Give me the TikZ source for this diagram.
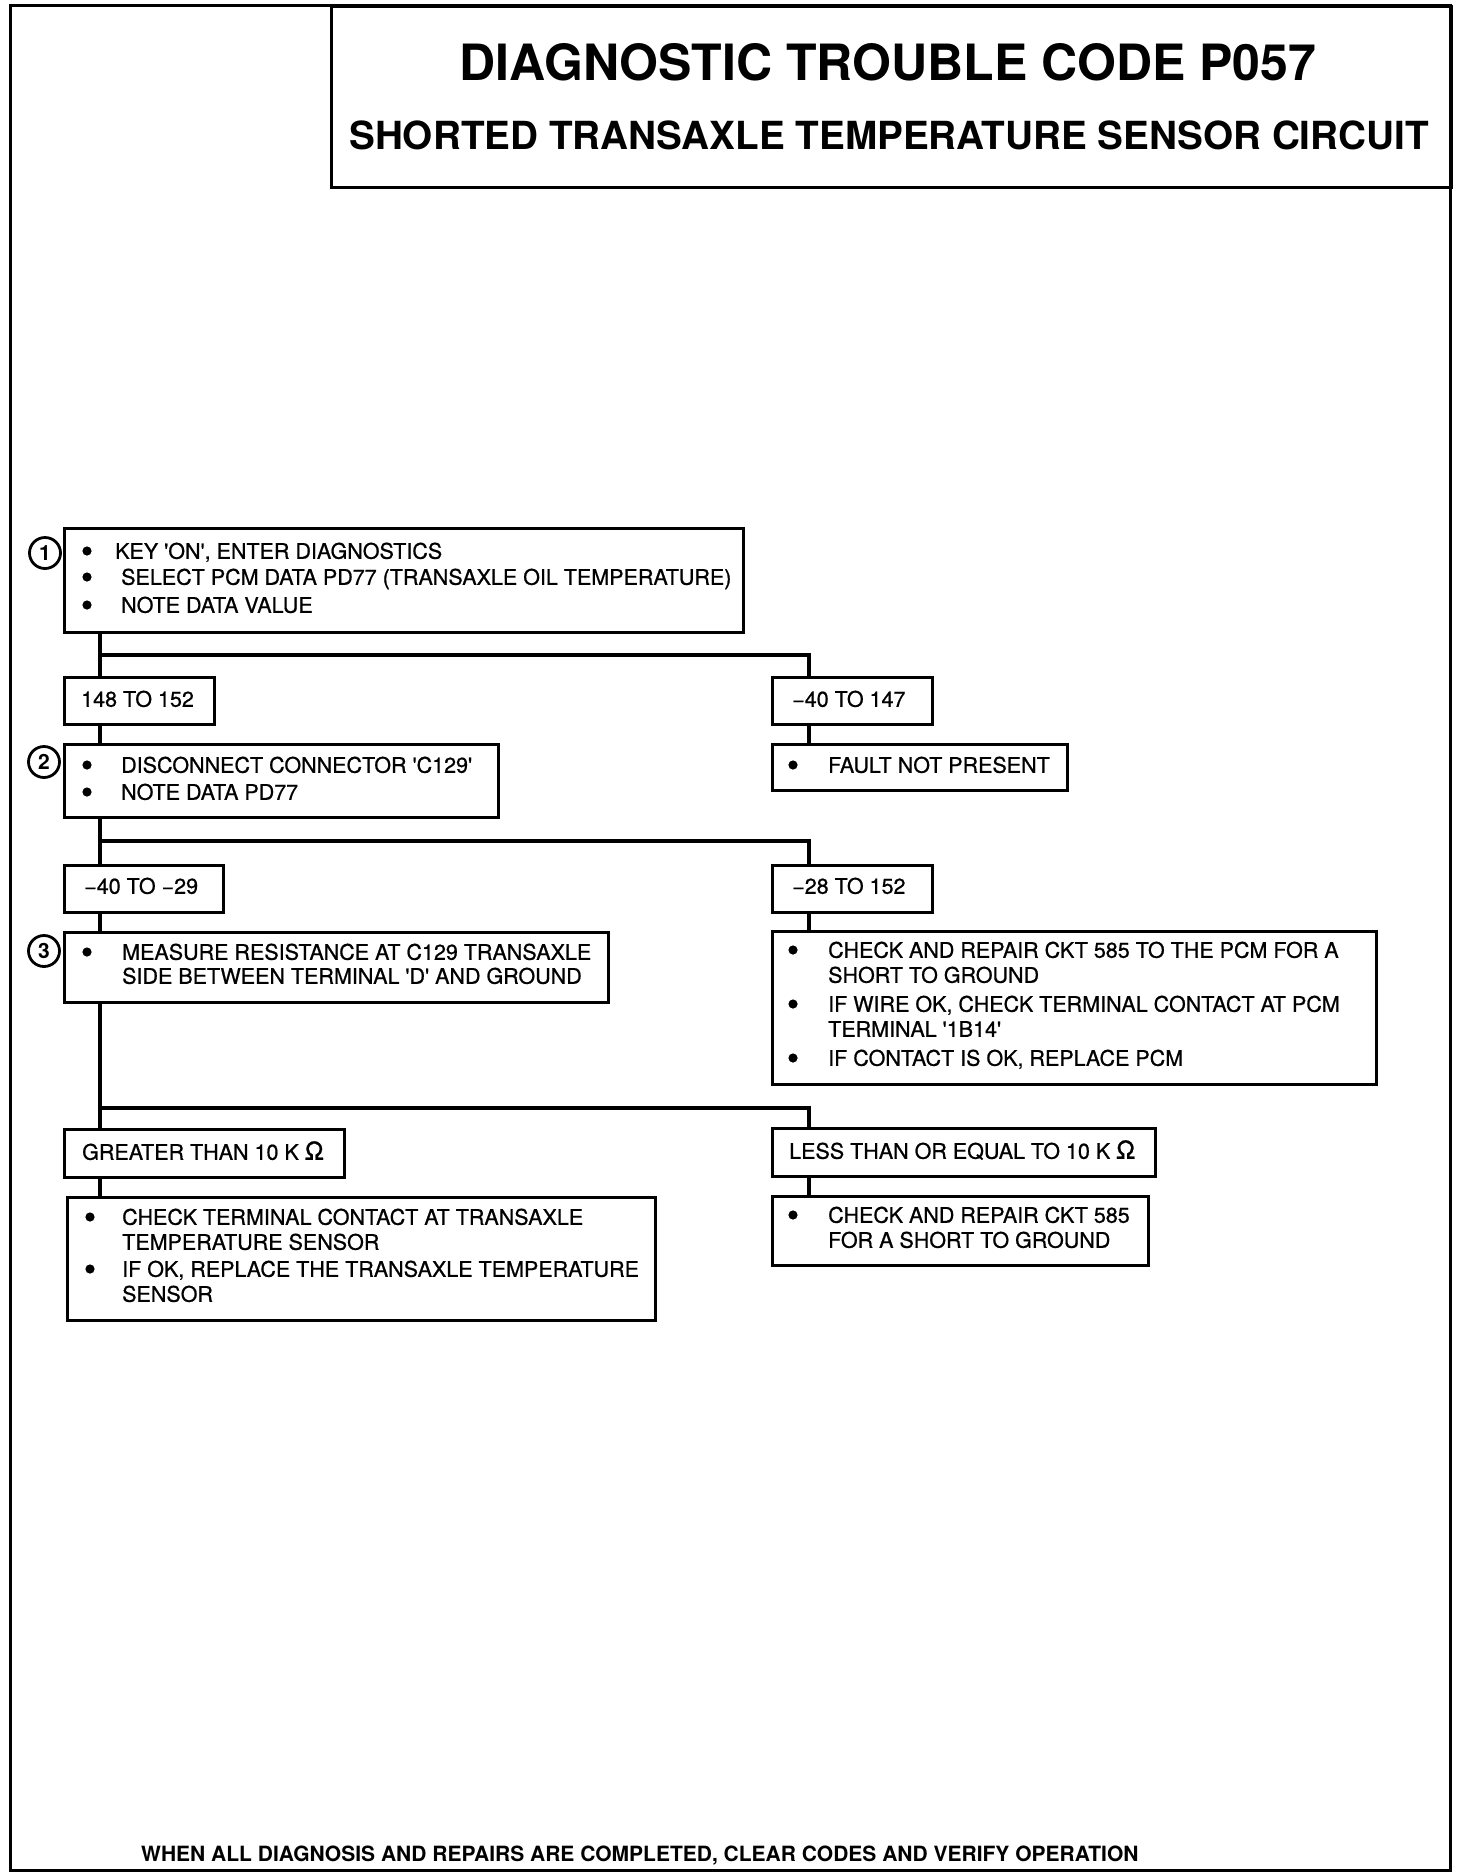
\documentclass[tikz,border=0pt]{standalone}
\usepackage{fontspec}
\setmainfont{TeX Gyre Heros}
\newfontfamily\bodyfont{TeX Gyre Heros}[FakeBold=0.8]
\newfontfamily\footfont{TeX Gyre Heros}
\begin{document}
\begin{tikzpicture}[x=1pt,y=-1pt,
  frame/.style={line width=3pt},
  box/.style={draw, line width=2.5pt, inner sep=0pt, anchor=north west},
  txt/.style={anchor=west, inner sep=0pt, text height=15.5pt, text depth=0pt,
    font=\bodyfont\fontsize{21.5}{25}\selectfont},
  conn/.style={line width=4.8pt, line join=miter},
  num/.style={circle, draw, line width=2.8pt, minimum size=31pt, inner sep=0pt,
    font=\bfseries\fontsize{21}{24}\selectfont},
  ttl/.style={inner sep=0pt, text height=36pt, text depth=0pt,
    font=\bfseries\fontsize{50}{54}\selectfont},
  sttl/.style={inner sep=0pt, text height=28pt, text depth=0pt,
    font=\bfseries\fontsize{38.7}{42}\selectfont},
]
\useasboundingbox (0,0) rectangle (1472,1874);
\draw[frame] (10,5) rectangle (1450,1870);
\node[box, line width=3pt, minimum width=1120pt, minimum height=181pt] (title) at (330,5) {};
\node[ttl] (t1) at (888,62) {DIAGNOSTIC TROUBLE CODE P057};
\node[sttl] (t2) at (889,135) {SHORTED TRANSAXLE TEMPERATURE SENSOR CIRCUIT};

% step boxes
\node[box, minimum width=679pt, minimum height=104pt] (b1) at (63,527) {};
\node[box, minimum width=150pt, minimum height=47pt] (r148) at (63,676) {};
\node[box, minimum width=160pt, minimum height=47pt] (r40) at (771,676) {};
\node[box, minimum width=295pt, minimum height=46pt] (fault) at (771,743) {};
\node[box, minimum width=434pt, minimum height=73pt] (b2) at (63,743) {};
\node[box, minimum width=159pt, minimum height=47pt] (r4029) at (63,864) {};
\node[box, minimum width=160pt, minimum height=47pt] (r28) at (771,864) {};
\node[box, minimum width=544pt, minimum height=70pt] (b3) at (63,931) {};
\node[box, minimum width=604pt, minimum height=153pt] (pcm) at (771,930) {};
\node[box, minimum width=280pt, minimum height=48pt] (gt) at (63,1128) {};
\node[box, minimum width=383pt, minimum height=48pt] (le) at (771,1127) {};
\node[box, minimum width=588pt, minimum height=123pt] (sens) at (66,1196) {};
\node[box, minimum width=376pt, minimum height=69pt] (ckt) at (771,1195) {};

% circled numbers
\node[num] (n1) at (45,553) {1};
\node[num] (n2) at (44,762) {2};
\node[num] (n3) at (44,951) {3};

% texts
\fill (87,551) circle[radius=4.6pt];
\fill (87,577) circle[radius=4.6pt];
\fill (87,605) circle[radius=4.6pt];
\node[txt] (l11) at (115,551) {KEY 'ON', ENTER DIAGNOSTICS};
\node[txt] (l12) at (121,577) {SELECT PCM DATA PD77 (TRANSAXLE OIL TEMPERATURE)};
\node[txt] (l13) at (121,605) {NOTE DATA VALUE};

\node[txt] (l148) at (81,699) {148 TO 152};
\node[txt] (l40) at (792,699) {\textminus40 TO 147};
\fill (793,765) circle[radius=4.6pt];
\node[txt] (lf) at (828,765) {FAULT NOT PRESENT};

\fill (87,765) circle[radius=4.6pt];
\fill (87,792) circle[radius=4.6pt];
\node[txt] (l21) at (121,765) {DISCONNECT CONNECTOR 'C129'};
\node[txt] (l22) at (121,792) {NOTE DATA PD77};

\node[txt] (l4029) at (84,886) {\textminus40 TO \textminus29};
\node[txt] (l28) at (792,886) {\textminus28 TO 152};

\fill (87,952) circle[radius=4.6pt];
\node[txt] (l31) at (122,952) {MEASURE RESISTANCE AT C129 TRANSAXLE};
\node[txt] (l32) at (122,976) {SIDE BETWEEN TERMINAL 'D' AND GROUND};

\fill (793,950) circle[radius=4.6pt];
\fill (793,1004) circle[radius=4.6pt];
\fill (793,1058) circle[radius=4.6pt];
\node[txt] (p1) at (828,950) {CHECK AND REPAIR CKT 585 TO THE PCM FOR A};
\node[txt] (p2) at (828,975) {SHORT TO GROUND};
\node[txt] (p3) at (828,1004) {IF WIRE OK, CHECK TERMINAL CONTACT AT PCM};
\node[txt] (p4) at (828,1029) {TERMINAL '1B14'};
\node[txt] (p5) at (828,1058) {IF CONTACT IS OK, REPLACE PCM};

\node[txt] (lgt) at (82,1152) {GREATER THAN 10 K {\fontsize{25}{25}\selectfont Ω}};
\node[txt] (lle) at (789,1151) {LESS THAN OR EQUAL TO 10 K {\fontsize{25}{25}\selectfont Ω}};

\fill (90,1217) circle[radius=4.6pt];
\fill (90,1269) circle[radius=4.6pt];
\node[txt] (s1) at (122,1217) {CHECK TERMINAL CONTACT AT TRANSAXLE};
\node[txt] (s2) at (122,1242) {TEMPERATURE SENSOR};
\node[txt] (s3) at (122,1269) {IF OK, REPLACE THE TRANSAXLE TEMPERATURE};
\node[txt] (s4) at (122,1294) {SENSOR};

\fill (793,1215) circle[radius=4.6pt];
\node[txt] (c1) at (828,1215) {CHECK AND REPAIR CKT 585};
\node[txt] (c2) at (828,1240) {FOR A SHORT TO GROUND};

\node[anchor=west, inner sep=0pt, text height=16pt, text depth=0pt,
  font=\footfont\bfseries\fontsize{21}{24}\selectfont] (foot) at (141,1853)
  {WHEN ALL DIAGNOSIS AND REPAIRS ARE COMPLETED, CLEAR CODES AND VERIFY OPERATION};

% connectors
\coordinate (tk) at (100,0);
\coordinate (rb) at (809,0);
\coordinate (bar1) at (0,655);
\coordinate (bar2) at (0,841);
\coordinate (bar3) at (0,1108);
\draw[conn] (b1.south -| tk) -- (r148.north -| tk);
\draw[conn] (tk |- bar1) -- (rb |- bar1) -- (r40.north -| rb);
\draw[conn] (r40.south -| rb) -- (fault.north -| rb);
\draw[conn] (r148.south -| tk) -- (b2.north -| tk);
\draw[conn] (b2.south -| tk) -- (r4029.north -| tk);
\draw[conn] (tk |- bar2) -- (rb |- bar2) -- (r28.north -| rb);
\draw[conn] (r28.south -| rb) -- (pcm.north -| rb);
\draw[conn] (r4029.south -| tk) -- (b3.north -| tk);
\draw[conn] (b3.south -| tk) -- (gt.north -| tk);
\draw[conn] (tk |- bar3) -- (rb |- bar3) -- (le.north -| rb);
\draw[conn] (gt.south -| tk) -- (sens.north -| tk);
\draw[conn] (le.south -| rb) -- (ckt.north -| rb);
\end{tikzpicture}
\end{document}
